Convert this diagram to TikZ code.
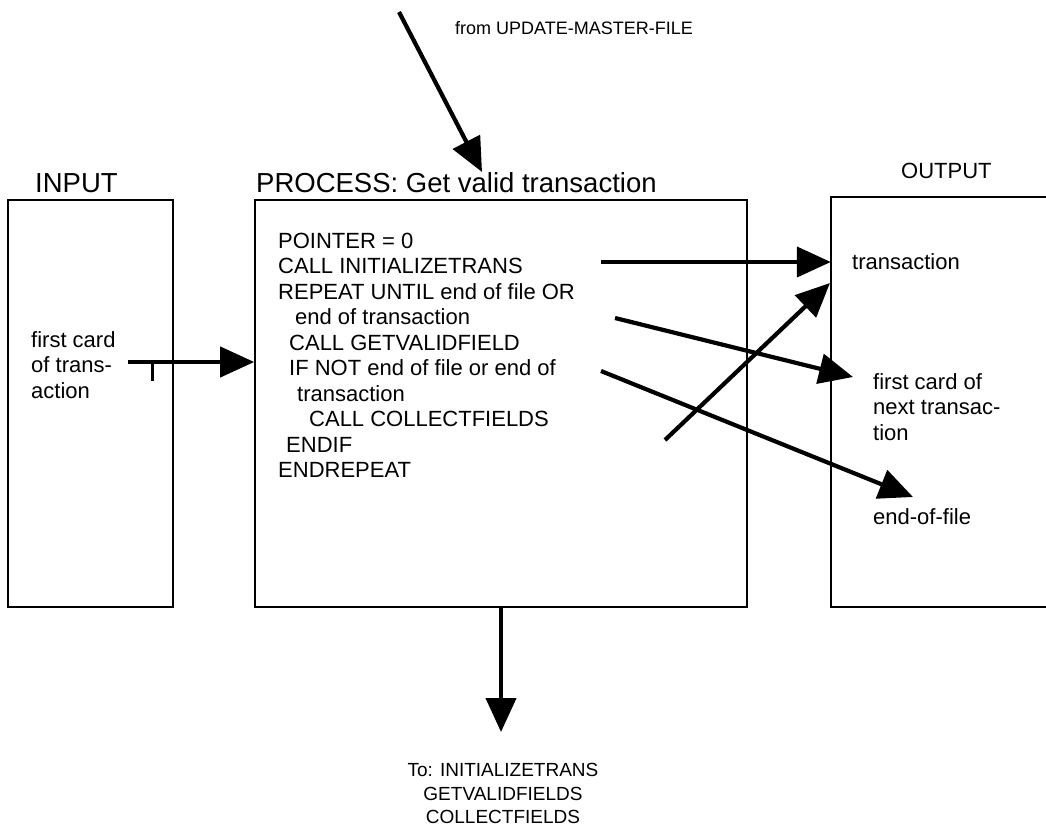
\documentclass[tikz,border=0pt]{standalone}
\usepackage{fontspec}
\setmainfont{Liberation Sans}
\usetikzlibrary{arrows.meta}

\begin{document}
\begin{tikzpicture}[x=1pt,y=-1pt,
  box/.style={draw,line width=1.6pt,minimum height=407pt,inner sep=0pt},
  flow/.style={-{Triangle[length=34pt,width=30pt]},line width=4.2pt},
  code/.style={anchor=base west,inner sep=0pt,font=\fontsize{22}{26}\selectfont},
  head/.style={anchor=base west,inner sep=0pt,font=\fontsize{27.5}{32}\selectfont}]
  \useasboundingbox (0,0) rectangle (1046,835);
  \node[box,minimum width=165pt] (input) at (90.5,403.5) {};
  \node[box,minimum width=492pt] (proc) at (501,403.5) {};
  \node[minimum width=215pt,minimum height=410pt,inner sep=0pt] (output) at (938.5,402) {};
  \draw[line width=1.6pt] (output.north east) -- (output.north west) -- (output.south west) -- (output.south east);
  \node[head] (inhead) at (35,192) {INPUT};
  \node[head] (prochead) at (256,192) {PROCESS: Get valid transaction};
  \node[head,font=\fontsize{22}{26}\selectfont] (outhead) at (901,178) {OUTPUT};
  \node[code,font=\fontsize{18}{22}\selectfont] (fromtxt) at (455,34) {from UPDATE-MASTER-FILE};
  \node[code] (i1) at (31,347) {first card};
  \node[code] (i2) at (31,372) {of trans-};
  \node[code] (i3) at (31,398) {action};
  \node[code] (p1) at (278,248) {POINTER = 0};
  \node[code] (p2) at (278,273.5) {CALL INITIALIZETRANS};
  \node[code] (p3) at (278,299) {REPEAT UNTIL end of file OR};
  \node[code] (p4) at (295,324.5) {end of transaction};
  \node[code] (p5) at (289,350) {CALL GETVALIDFIELD};
  \node[code] (p6) at (289,375.5) {IF NOT end of file or end of};
  \node[code] (p7) at (297,401) {transaction};
  \node[code] (p8) at (309,426.5) {CALL COLLECTFIELDS};
  \node[code] (p9) at (286,452) {ENDIF};
  \node[code] (p10) at (278,477.5) {ENDREPEAT};
  \node[code] (o1) at (852,269) {transaction};
  \node[code] (o2) at (873,389) {first card of};
  \node[code] (o3) at (873,414.5) {next transac-};
  \node[code] (o4) at (873,440) {tion};
  \node[code] (o5) at (873,524) {end-of-file};
  \node[anchor=base,inner sep=0pt,font=\fontsize{19}{23}\selectfont] (t1) at (503,776) {To: INITIALIZETRANS};
  \node[anchor=base,inner sep=0pt,font=\fontsize{19}{23}\selectfont] (t2) at (503,800) {GETVALIDFIELDS};
  \node[anchor=base,inner sep=0pt,font=\fontsize{19}{23}\selectfont] (t3) at (503,823) {COLLECTFIELDS};
  \coordinate (src) at (399,12);
  \coordinate (srctip) at (482,172);
  \coordinate (card) at (128,362);
  \coordinate (a1) at (601,262);
  \coordinate (a2) at (665,440);
  \coordinate (b2) at (830,283);
  \coordinate (a3) at (615,318);
  \coordinate (b3) at (853,377);
  \coordinate (a4) at (601,371);
  \coordinate (b4) at (913,497);
  \coordinate (totip) at (501,732);
  \draw[flow] (src) -- (srctip);
  \draw[flow] (card) -- (card -| proc.west);
  \draw[line width=3pt] (152,364) -- (152,381);
  \draw[flow] (a1) -- (a1 -| output.west);
  \draw[flow] (a2) -- (b2);
  \draw[flow] (a3) -- (b3);
  \draw[flow] (a4) -- (b4);
  \draw[flow] (proc.south) -- (totip);
\end{tikzpicture}
\end{document}
